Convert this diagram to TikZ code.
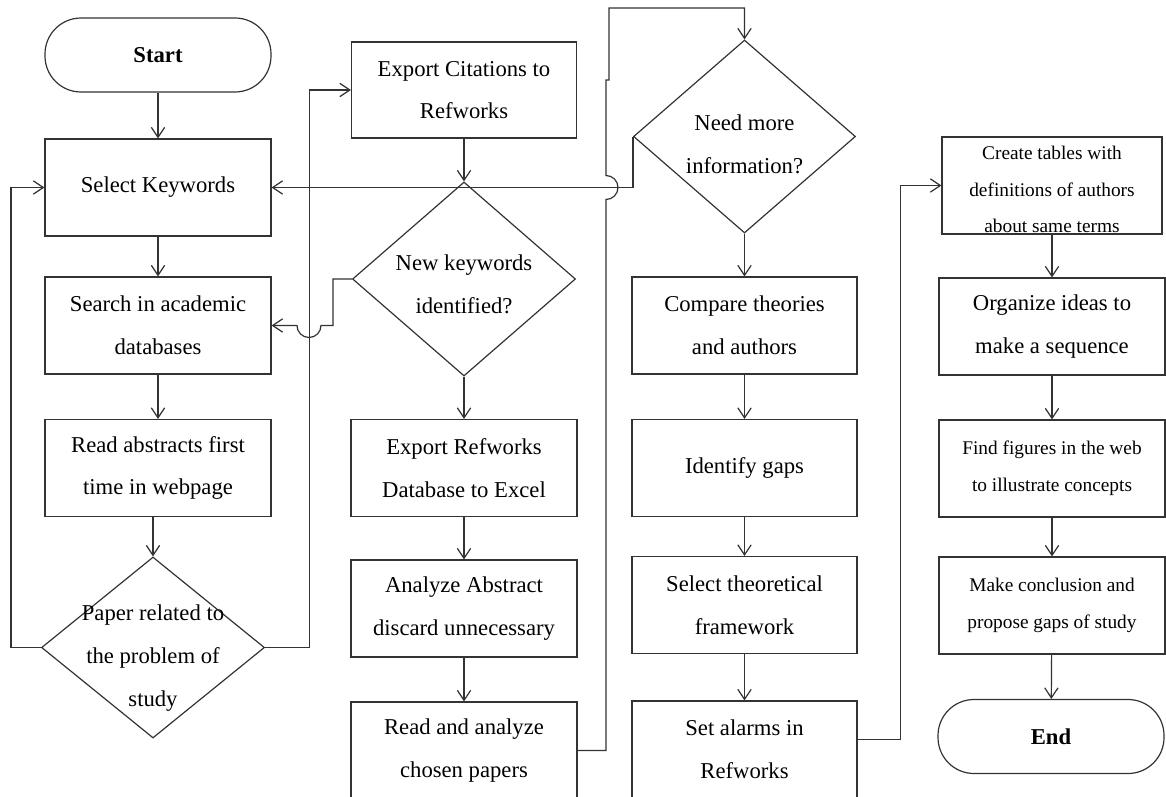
\documentclass[tikz,border=0pt]{standalone}
\usepackage{fontspec}
\setmainfont{Liberation Serif}
\usetikzlibrary{arrows.meta,shapes.geometric}
\begin{document}
\begin{tikzpicture}[x=0.75pt,y=-0.75pt,
  line/.style={draw=black!80, line width=0.9pt},
  arr/.style={line, -{Straight Barb[length=7.5pt,width=10pt]}},
  box/.style={line, rectangle, minimum width=169.5pt, minimum height=72.75pt,
    inner sep=0pt, align=center, font=\fontsize{17}{32}\selectfont},
  small/.style={font=\fontsize{14.5}{27.5}\selectfont},
  term/.style={box, rounded corners=27pt, minimum height=55.5pt,
    font=\fontsize{17}{20}\selectfont\bfseries},
  dia/.style={line, diamond, inner sep=0pt},
  diatext/.style={align=center, inner sep=0pt, font=\fontsize{17}{32}\selectfont}
]
\useasboundingbox (0,0) rectangle (1166,796);

% first column
\node[term] (start) at (158,55) {Start};
\node[box] (sel) at (158,187.5) {Select Keywords};
\node[box] (search) at (158,325.5) {Search in academic\\databases};
\node[box] (read) at (158,468) {Read abstracts first\\time in webpage};
\node[dia, minimum width=167.25pt, minimum height=135.75pt] (pap) at (153,647.5) {};
\node[diatext] (papt) at (153,658) {Paper related to\\the problem of\\study};

% second column
\node[box, minimum width=168.75pt, minimum height=72pt] (expc) at (464,90) {Export Citations to\\Refworks};
\node[dia, minimum width=167.25pt, minimum height=145.5pt] (nk) at (464,279) {};
\node[diatext] (nkt) at (464,284) {New keywords\\identified?};
\node[box] (er) at (464,468) {Export Refworks\\Database to Excel};
\node[box] (an) at (464,608.5) {Analyze Abstract\\discard unnecessary};
\node[box] (rap) at (464,750.5) {Read and analyze\\chosen papers};

% third column
\node[dia, minimum width=166.5pt, minimum height=144.75pt] (nm) at (744.5,136.5) {};
\node[diatext] (nmt) at (744.5,144) {Need more\\information?};
\node[box, minimum width=168.75pt] (cmp) at (744.5,325.5) {Compare theories\\and authors};
\node[box, minimum width=168.75pt] (gap) at (744.5,468) {Identify gaps};
\node[box, minimum width=168.75pt] (stf) at (744.5,605) {Select theoretical\\framework};
\node[box, minimum width=168.75pt] (sa) at (744.5,749.5) {Set alarms in\\Refworks};

% fourth column
\node[box, small, minimum width=165pt] (ct) at (1052,185.5) {\rule{0pt}{16pt}Create tables with\\definitions of authors\\about same terms};
\node[box] (org) at (1052,326.5) {Organize ideas to\\make a sequence};
\node[box, small] (ff) at (1052,468.5) {Find figures in the web\\to illustrate concepts};
\node[box, small] (mc) at (1052,605.5) {Make conclusion and\\propose gaps of study};
\node[term] (end) at (1051,736.5) {End};

% straight flow
\draw[arr] (start) -- (sel);
\draw[arr] (sel) -- (search);
\draw[arr] (search) -- (read);
\draw[arr] (read.south -| pap.north) -- (pap.north);
\draw[arr] (expc) -- (nk.north);
\draw[arr] (nk.south) -- (er);
\draw[arr] (er) -- (an);
\draw[arr] (an) -- (rap);
\draw[arr] (nm.south) -- (cmp);
\draw[arr] (cmp) -- (gap);
\draw[arr] (gap) -- (stf);
\draw[arr] (stf) -- (sa);
\draw[arr] (ct) -- (org);
\draw[arr] (org) -- (ff);
\draw[arr] (ff) -- (mc);
\draw[arr] (mc) -- (end);

% loops and branches
\draw[arr] (pap.west) -- ++(-30,0) |- (sel.west);
\draw[arr] (pap.east) -- ++(44,0) |- (expc.west);
\draw[arr] (nm.west) |- (sel.east);
\draw[arr] (nk.west) -- ++(-19,0) -- ++(0,46.5) -- (321,325.5)
  arc[start angle=0, end angle=-180, radius=9pt] -- (search.east);
\draw[arr] (rap.east) -- (606,750.5) -- (606,199.5)
  arc[start angle=-90, end angle=90, radius=9pt] -- (606,80) -- (609,80)
  -- (609,8) -| (nm.north);
\draw[arr] ([yshift=7.5pt]sa.east) -- ++(43,0) |- (ct.west);
\end{tikzpicture}
\end{document}
